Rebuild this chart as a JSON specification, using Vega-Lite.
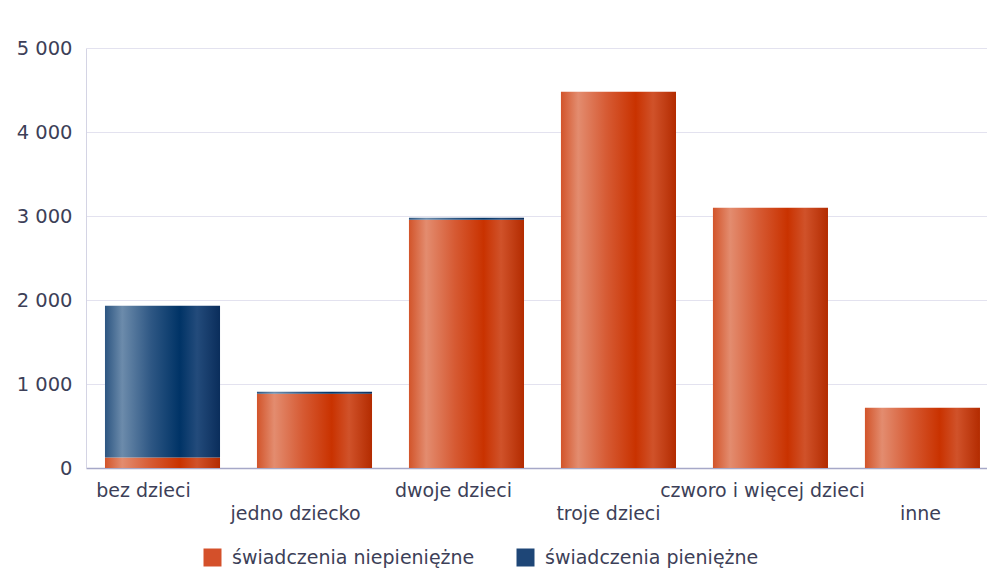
{
  "$schema": "https://vega.github.io/schema/vega-lite/v6.json",
  "autosize": "none",
  "width": 901,
  "height": 420,
  "padding": {"left": 86, "top": 48, "right": 0, "bottom": 103},
  "background": "white",
  "config": {
    "font": "DejaVu Sans",
    "view": {"stroke": null}
  },
  "data": {
    "values": [
      {"kategoria": "bez dzieci", "rodzaj": "świadczenia niepieniężne", "wartosc": 126},
      {"kategoria": "bez dzieci", "rodzaj": "świadczenia pieniężne", "wartosc": 1806},
      {"kategoria": "jedno dziecko", "rodzaj": "świadczenia niepieniężne", "wartosc": 885},
      {"kategoria": "jedno dziecko", "rodzaj": "świadczenia pieniężne", "wartosc": 22},
      {"kategoria": "dwoje dzieci", "rodzaj": "świadczenia niepieniężne", "wartosc": 2956},
      {"kategoria": "dwoje dzieci", "rodzaj": "świadczenia pieniężne", "wartosc": 24},
      {"kategoria": "troje dzieci", "rodzaj": "świadczenia niepieniężne", "wartosc": 4480},
      {"kategoria": "troje dzieci", "rodzaj": "świadczenia pieniężne", "wartosc": 0},
      {"kategoria": "czworo i więcej dzieci", "rodzaj": "świadczenia niepieniężne", "wartosc": 3099},
      {"kategoria": "czworo i więcej dzieci", "rodzaj": "świadczenia pieniężne", "wartosc": 0},
      {"kategoria": "inne", "rodzaj": "świadczenia niepieniężne", "wartosc": 718},
      {"kategoria": "inne", "rodzaj": "świadczenia pieniężne", "wartosc": 0}
    ]
  },
  "transform": [
    {"stack": "wartosc", "groupby": ["kategoria"], "sort": [{"field": "rodzaj", "order": "ascending"}], "as": ["v0", "v1"]}
  ],
  "encoding": {
    "x": {
      "field": "kategoria",
      "type": "nominal",
      "sort": ["bez dzieci", "jedno dziecko", "dwoje dzieci", "troje dzieci", "czworo i więcej dzieci", "inne"],
      "scale": {"paddingInner": 0.243, "paddingOuter": 0.0855, "align": 0.73},
      "axis": {
        "title": null,
        "labelAngle": 0,
        "labelFont": "DejaVu Sans",
        "labelFontSize": 19,
        "labelColor": "#3d3f58",
        "labelPadding": 13,
        "labelLineHeight": 23,
        "labelBaseline": "top",
        "labelOverlap": false,
        "labelLimit": 400,
        "labelExpr": "indexof(['jedno dziecko','troje dzieci','inne'], datum.value) >= 0 ? ['', datum.label] : datum.label",
        "labelOffset": {
          "condition": [
            {"test": "datum.value == 'bez dzieci' || datum.value == 'jedno dziecko'", "value": -19},
            {"test": "datum.value == 'dwoje dzieci'", "value": -13},
            {"test": "datum.value == 'troje dzieci'", "value": -10},
            {"test": "datum.value == 'inne'", "value": -2}
          ],
          "value": -8
        },
        "ticks": false,
        "domainColor": "#a6a8c8",
        "domainWidth": 1.5,
        "grid": false
      }
    },
    "y": {
      "field": "v1",
      "type": "quantitative",
      "scale": {"domain": [0, 5000], "nice": false},
      "axis": {
        "title": null,
        "values": [0, 1000, 2000, 3000, 4000, 5000],
        "labelExpr": "replace(format(datum.value, ','), ',', ' ')",
        "labelFontSize": 19.5,
        "labelColor": "#3d3f58",
        "labelPadding": 14,
        "ticks": false,
        "domainColor": "#d4d4e4",
        "gridColor": "#e3e2ef",
        "gridWidth": 1
      }
    },
    "y2": {"field": "v0"},
    "stroke": {
      "field": "rodzaj",
      "type": "nominal",
      "scale": {
        "domain": ["świadczenia niepieniężne", "świadczenia pieniężne"],
        "range": ["#d4502a", "#1e4677"]
      },
      "legend": {
        "title": null,
        "orient": "none",
        "direction": "horizontal",
        "legendX": 117,
        "legendY": 500,
        "padding": 0,
        "symbolType": "square",
        "symbolSize": 81,
        "symbolStrokeWidth": 9,
        "symbolOpacity": 1,
        "labelFontSize": 19,
        "labelColor": "#3d3f58",
        "labelOffset": 10,
        "columnPadding": 28,
        "labelLimit": 400
      }
    }
  },
  "layer": [
    {
      "transform": [{"filter": "datum.rodzaj === 'świadczenia niepieniężne'"}],
      "mark": {"type": "bar", "strokeWidth": 0},
      "encoding": {
        "fill": {"value": {"gradient": "linear", "x1": 0, "y1": 0, "x2": 1, "y2": 0, "stops": [
          {"offset": 0, "color": "#d2542a"},
          {"offset": 0.15, "color": "#e38c6f"},
          {"offset": 0.4, "color": "#d65a33"},
          {"offset": 0.65, "color": "#c93200"},
          {"offset": 0.8, "color": "#d0522a"},
          {"offset": 1, "color": "#b32b00"}
        ]}}
      }
    },
    {
      "transform": [{"filter": "datum.rodzaj === 'świadczenia pieniężne' && datum.wartosc > 0"}],
      "mark": {"type": "bar", "strokeWidth": 0},
      "encoding": {
        "fill": {"value": {"gradient": "linear", "x1": 0, "y1": 0, "x2": 1, "y2": 0, "stops": [
          {"offset": 0, "color": "#2c5581"},
          {"offset": 0.15, "color": "#6c8bab"},
          {"offset": 0.4, "color": "#2e5784"},
          {"offset": 0.65, "color": "#003366"},
          {"offset": 0.8, "color": "#234b7b"},
          {"offset": 1, "color": "#0a2d5b"}
        ]}}
      }
    }
  ]
}
